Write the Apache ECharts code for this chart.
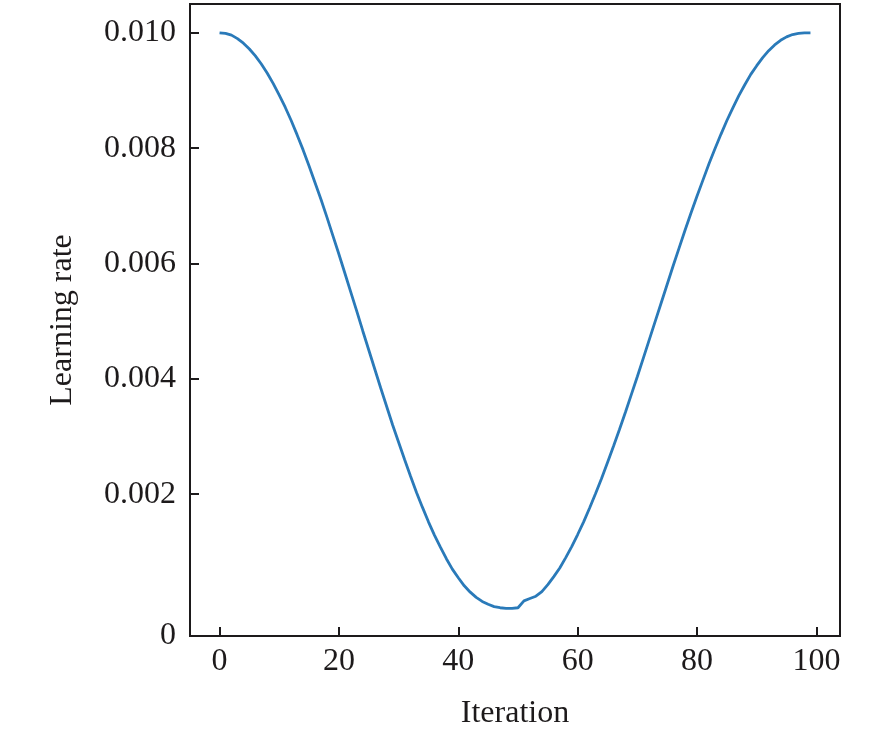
<!DOCTYPE html>
<html>
<head>
<meta charset="utf-8">
<title>Learning rate</title>
<script src="https://cdn.jsdelivr.net/npm/echarts@6/dist/echarts.min.js"></script>
<style>
    html, body { margin: 0; padding: 0; background: #fff; }
    #lrChart { width: 886px; height: 735px; }
</style>
</head>
<body>
<div id="lrChart"></div>
<script>
// learning rate per iteration
var lrValues = [
    0.01000, 0.00999, 0.00996, 0.00990, 0.00982, 0.00972, 0.00960, 0.00946, 0.00930, 0.00912,
    0.00892, 0.00871, 0.00848, 0.00823, 0.00797, 0.00769, 0.00740, 0.00711, 0.00680, 0.00648,
    0.00616, 0.00583, 0.00550, 0.00517, 0.00483, 0.00450, 0.00417, 0.00384, 0.00352, 0.00320,
    0.00290, 0.00260, 0.00231, 0.00203, 0.00177, 0.00152, 0.00129, 0.00108, 0.00088, 0.00070,
    0.00055, 0.00041, 0.00030, 0.00021, 0.00014, 0.00009, 0.00005, 0.00003, 0.00002, 0.00002,
    0.00003, 0.00015, 0.00019, 0.00023, 0.00031, 0.00043, 0.00057, 0.00072, 0.00090, 0.00109,
    0.00130, 0.00152, 0.00176, 0.00201, 0.00227, 0.00255, 0.00283, 0.00312, 0.00342, 0.00373,
    0.00404, 0.00436, 0.00468, 0.00500, 0.00532, 0.00564, 0.00596, 0.00627, 0.00658, 0.00688,
    0.00717, 0.00745, 0.00773, 0.00799, 0.00824, 0.00848, 0.00870, 0.00891, 0.00910, 0.00928,
    0.00943, 0.00957, 0.00969, 0.00979, 0.00987, 0.00993, 0.00997, 0.00999, 0.01000, 0.01000
];
var xTicks = [0, 20, 40, 60, 80, 100];
var yTicks = [0.002, 0.004, 0.006, 0.008, 0.010];
var yBottom = -0.00046;   // axis bottom, labelled "0" in the figure
var yTop = 0.0105;

var points = [];
for (var i = 0; i < lrValues.length; i++) {
    points.push([i, lrValues[i]]);
}

var ink = '#1d1a1b';
var font = 'Liberation Serif, Times New Roman, serif';

var myChart = echarts.init(document.getElementById('lrChart'));
var option = {
    backgroundColor: '#fff',
    animation: false,
    grid: {
        left: 190, right: 46, top: 4, bottom: 99,
        show: true,
        borderColor: ink,
        borderWidth: 2,
        backgroundColor: 'transparent'
    },
    xAxis: {
        type: 'value',
        min: -4.95,
        max: 103.95,
        name: 'Iteration',
        nameLocation: 'middle',
        nameGap: 62,
        nameTextStyle: { fontFamily: font, fontSize: 32, color: ink },
        axisLine: { show: false, onZero: false },
        axisTick: {
            inside: true, length: 9,
            customValues: xTicks,
            lineStyle: { color: ink, width: 2 }
        },
        axisLabel: {
            margin: 10,
            customValues: xTicks,
            fontFamily: font, fontSize: 32, color: ink
        },
        splitLine: { show: false }
    },
    yAxis: {
        type: 'value',
        min: yBottom,
        max: yTop,
        name: 'Learning rate',
        nameLocation: 'middle',
        nameGap: 111,
        nameTextStyle: { fontFamily: font, fontSize: 32, color: ink },
        axisLine: { show: false, onZero: false },
        axisTick: {
            inside: true, length: 9,
            customValues: yTicks,
            lineStyle: { color: ink, width: 2 }
        },
        axisLabel: {
            margin: 14,
            customValues: [yBottom].concat(yTicks),
            fontFamily: font, fontSize: 32, color: ink,
            formatter: function (v) {
                if (v < 0.001) {
                    return '0';
                }
                return v.toFixed(3);
            }
        },
        splitLine: { show: false }
    },
    series: [
        {
            name: 'lr',
            type: 'line',
            data: points,
            showSymbol: false,
            smooth: false,
            lineStyle: { color: '#2a7ab9', width: 2.8 }
        }
    ]
};
myChart.setOption(option);
</script>
</body>
</html>
